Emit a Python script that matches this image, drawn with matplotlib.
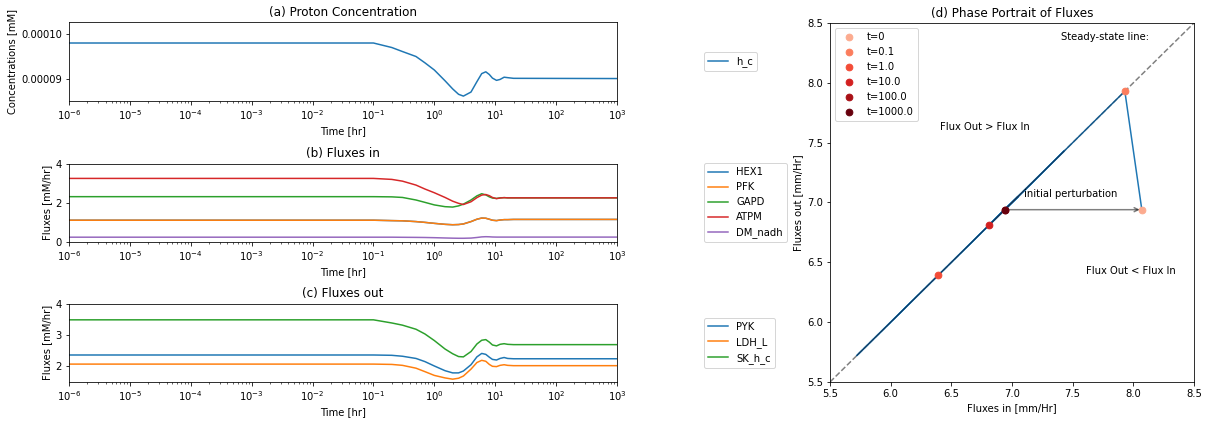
import matplotlib
matplotlib.use('Agg')
from matplotlib import pyplot as plt
from matplotlib.ticker import FormatStrFormatter
import numpy as np

# time points [hr] shared by the time-course panels
t_hr = [1e-6, 0.1, 0.2, 0.3, 0.5, 0.7, 1.0, 1.5, 2.0, 2.5, 3.0, 4.0, 5.0,
        6.0, 7.0, 8.0, 9.0, 10.5, 12.0, 14.0, 16.0, 20.0, 1000.0]

# (a) proton concentration [mM]
h_c = [9.80e-5, 9.80e-5, 9.70e-5, 9.61e-5, 9.50e-5, 9.36e-5, 9.20e-5, 8.96e-5,
       8.78e-5, 8.66e-5, 8.62e-5, 8.71e-5, 8.94e-5, 9.12e-5, 9.16e-5, 9.10e-5,
       9.02e-5, 8.97e-5, 8.99e-5, 9.04e-5, 9.03e-5, 9.015e-5, 9.01e-5]

# (b) fluxes in [mM/hr]
HEX1 = [1.11, 1.11, 1.09, 1.08, 1.04, 1.00, 0.95, 0.90, 0.88, 0.89, 0.92, 1.04,
        1.16, 1.22, 1.21, 1.16, 1.11, 1.09, 1.12, 1.14, 1.14, 1.15, 1.15]
PFK = [1.11, 1.11, 1.09, 1.08, 1.04, 1.00, 0.95, 0.90, 0.88, 0.89, 0.92, 1.04,
       1.16, 1.22, 1.21, 1.16, 1.11, 1.09, 1.12, 1.14, 1.14, 1.15, 1.15]
GAPD = [2.31, 2.31, 2.30, 2.27, 2.14, 2.02, 1.89, 1.80, 1.78, 1.84, 1.93, 2.14,
        2.35, 2.46, 2.40, 2.30, 2.24, 2.22, 2.25, 2.26, 2.25, 2.25, 2.25]
ATPM = [3.24, 3.24, 3.19, 3.10, 2.90, 2.70, 2.51, 2.27, 2.08, 1.97, 1.91, 2.05,
        2.26, 2.39, 2.42, 2.36, 2.27, 2.21, 2.24, 2.26, 2.25, 2.25, 2.25]
DM_nadh = [0.245, 0.245, 0.245, 0.24, 0.235, 0.23, 0.22, 0.205, 0.195, 0.19, 0.19, 0.20,
           0.23, 0.26, 0.27, 0.265, 0.255, 0.25, 0.25, 0.25, 0.25, 0.25, 0.25]

# (c) fluxes out [mM/hr]
PYK = [2.36, 2.36, 2.35, 2.32, 2.25, 2.15, 2.01, 1.86, 1.79, 1.79, 1.85, 2.05,
       2.30, 2.41, 2.38, 2.29, 2.22, 2.20, 2.25, 2.28, 2.25, 2.24, 2.24]
LDH_L = [2.07, 2.07, 2.06, 2.03, 1.94, 1.83, 1.71, 1.63, 1.59, 1.62, 1.69, 1.91,
         2.12, 2.19, 2.16, 2.06, 2.00, 1.99, 2.03, 2.05, 2.03, 2.02, 2.02]
SK_h_c = [3.48, 3.48, 3.38, 3.31, 3.18, 3.03, 2.82, 2.55, 2.40, 2.31, 2.30, 2.47,
          2.71, 2.83, 2.85, 2.77, 2.68, 2.65, 2.70, 2.72, 2.70, 2.69, 2.69]

# (d) phase portrait: summed fluxes [mm/Hr]
phase_t = [0, 0.1, 0.2, 0.3, 0.5, 0.7, 1.0, 1.5, 2.0, 2.5, 3.0, 4.0, 5.0, 6.0,
           7.0, 8.0, 9.0, 10.0, 12.0, 14.0, 16.0, 20.0, 100.0, 1000.0]
flux_in_total = [8.07, 7.93, 7.79, 7.63, 7.37, 7.01, 6.39, 6.04, 5.78, 5.72, 5.84, 6.43,
                 7.13, 7.43, 7.39, 7.12, 6.90, 6.81, 6.98, 7.05, 6.98, 6.95, 6.94, 6.94]
flux_out_total = [6.94, 7.93, 7.79, 7.63, 7.37, 7.01, 6.39, 6.04, 5.78, 5.72, 5.84, 6.43,
                  7.13, 7.43, 7.39, 7.12, 6.90, 6.81, 6.98, 7.05, 6.98, 6.95, 6.94, 6.94]
marker_times = [0, 0.1, 1.0, 10.0, 100.0, 1000.0]
marker_labels = ['t=0', 't=0.1', 't=1.0', 't=10.0', 't=100.0', 't=1000.0']

W, H = 1210, 424
fig = plt.figure(figsize=(W / 72, H / 72), dpi=72)

def px_axes(left, top, right, bottom):
    return fig.add_axes([left / W, 1 - bottom / H, (right - left) / W, (bottom - top) / H])

ax_a = px_axes(69, 22, 617, 101)
ax_b = px_axes(69, 163.5, 617, 242)
ax_c = px_axes(69, 303.5, 617, 382)
ax_d = px_axes(830, 23, 1194, 382)

#(a) proton concentration
ax_a.plot(t_hr, h_c, label='h_c')
ax_a.set_ylim(8.511e-5, 1.0267e-4)
ax_a.set_yticks([9e-5, 1e-4])
ax_a.yaxis.set_major_formatter(FormatStrFormatter('%.5f'))
ax_a.set_ylabel('Concentrations [mM]')
ax_a.set_title('(a) Proton Concentration')

#(b) fluxes in
for name, vals in zip(['HEX1', 'PFK', 'GAPD', 'ATPM', 'DM_nadh'], [HEX1, PFK, GAPD, ATPM, DM_nadh]):
    ax_b.plot(t_hr, vals, label=name)
ax_b.set_ylim(0, 4)
ax_b.set_yticks([0, 2, 4])
ax_b.set_ylabel('Fluxes [mM/hr]')
ax_b.set_title('(b) Fluxes in')

#(c) fluxes out
for name, vals in zip(['PYK', 'LDH_L', 'SK_h_c'], [PYK, LDH_L, SK_h_c]):
    ax_c.plot(t_hr, vals, label=name)
ax_c.set_ylim(1.5, 4)
ax_c.set_yticks([2, 3, 4])
ax_c.set_ylabel('Fluxes [mM/hr]')
ax_c.set_title('(c) Fluxes out')

for ax in (ax_a, ax_b, ax_c):
    ax.set_xscale('log')
    ax.set_xlim(1e-6, 1e3)
    ax.set_xlabel('Time [hr]')
    ax.legend(loc='center left', bbox_to_anchor=(1.15, 0.5))

#(d) phase portrait
lims = [5.5, 8.5]
ax_d.plot(lims, lims, '--', color='gray')
ax_d.plot(flux_in_total, flux_out_total, color='C0')
ax_d.plot(flux_in_total[1:], flux_out_total[1:], color='#16395a', lw=0.5)
ax_d.annotate('', xy=(flux_in_total[0], flux_out_total[0]),
              xytext=(flux_in_total[-1], flux_out_total[-1]),
              arrowprops=dict(arrowstyle='->', color='k', alpha=0.5, lw=1.5))
colors = plt.cm.Reds(np.linspace(0.3, 1.0, len(marker_times)))
for tm, lab, col in zip(marker_times, marker_labels, colors):
    i = phase_t.index(tm)
    ax_d.scatter(flux_in_total[i], flux_out_total[i], color=col, s=45, zorder=3, label=lab)
ax_d.text(7.40, 8.38, 'Steady-state line:', va='center')
ax_d.text(6.41, 7.63, 'Flux Out > Flux In', va='center')
ax_d.text(7.61, 6.43, 'Flux Out < Flux In', va='center')
ax_d.text(7.10, 7.07, 'initial perturbation', va='center')
ax_d.set_xlim(lims)
ax_d.set_ylim(lims)
ax_d.set_xlabel('Fluxes in [mm/Hr]')
ax_d.set_ylabel('Fluxes out [mm/Hr]')
ax_d.set_title('(d) Phase Portrait of Fluxes')
ax_d.legend(loc='upper left')

fig.savefig('out.png', dpi=72)
